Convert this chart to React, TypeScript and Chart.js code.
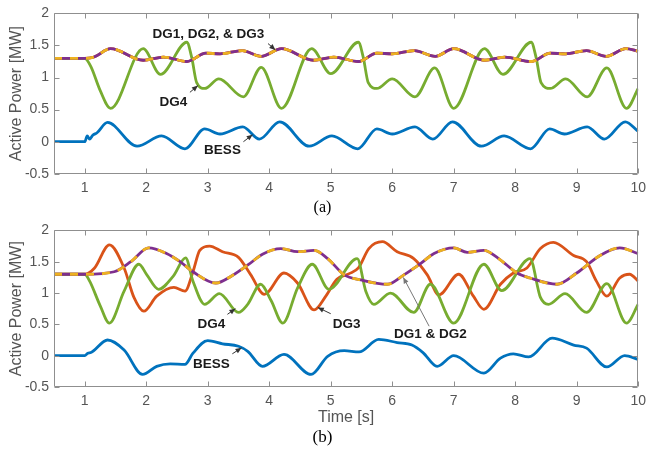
import React, { useEffect, useRef } from "react";
import { Chart, registerables } from "chart.js";

Chart.register(...registerables);

// ---------- axis ticks ----------
const xTicks = [1, 2, 3, 4, 5, 6, 7, 8, 9, 10];
const yTicks = [-0.5, 0, 0.5, 1, 1.5, 2];

// ---------- panel (a) : [time s, power MW] ----------
const aDG123: [number, number][] = [
  [0.5, 1.3], [1.0, 1.3], [1.15, 1.32], [1.42, 1.45], [1.95, 1.27], [2.28, 1.32], [2.66, 1.25],
  [2.97, 1.38], [3.2, 1.37], [3.56, 1.42], [3.87, 1.33], [4.2, 1.45], [4.72, 1.27], [5.05, 1.32],
  [5.45, 1.25], [5.75, 1.38], [6.0, 1.37], [6.36, 1.42], [6.7, 1.33], [7.0, 1.45], [7.5, 1.27],
  [7.83, 1.32], [8.26, 1.25], [8.57, 1.38], [8.82, 1.37], [9.16, 1.42], [9.48, 1.33], [9.8, 1.45],
  [10, 1.41],
];
const aDG4: [number, number][] = [
  [0.5, 1.3], [1.0, 1.3], [1.1, 1.17], [1.25, 0.8], [1.42, 0.52], [1.95, 1.45], [2.23, 1.05],
  [2.66, 1.55], [2.74, 1.31], [2.82, 0.92], [2.95, 0.83], [3.18, 0.98], [3.58, 0.7], [3.87, 1.16],
  [4.2, 0.52], [4.69, 1.45], [5.0, 1.06], [5.45, 1.55], [5.53, 1.31], [5.61, 0.92], [5.75, 0.83],
  [6.0, 0.98], [6.37, 0.7], [6.69, 1.15], [7.0, 0.52], [7.5, 1.45], [7.8, 1.05], [8.26, 1.55],
  [8.34, 1.31], [8.42, 0.92], [8.57, 0.83], [8.82, 0.98], [9.17, 0.7], [9.49, 1.15], [9.81, 0.52],
  [10, 0.83],
];
const aBESS: [number, number][] = [
  [0.5, 0], [1.0, 0], [1.04, 0.09], [1.08, 0.04], [1.13, 0.1], [1.2, 0.14], [1.37, 0.3],
  [1.85, -0.07], [2.25, 0.09], [2.63, -0.11], [2.95, 0.2], [3.2, 0.12], [3.57, 0.23], [3.84, 0.04],
  [4.17, 0.31], [4.65, -0.07], [5.02, 0.09], [5.44, -0.11], [5.75, 0.2], [6.0, 0.12], [6.37, 0.23],
  [6.66, 0.04], [6.98, 0.31], [7.45, -0.07], [7.82, 0.09], [8.25, -0.11], [8.56, 0.2], [8.8, 0.12],
  [9.17, 0.23], [9.45, 0.04], [9.79, 0.31], [10, 0.16],
];

// ---------- panel (b) ----------
const bDG12: [number, number][] = [
  [0.5, 1.3], [1.0, 1.3], [1.48, 1.34], [1.75, 1.5], [2.04, 1.72], [2.33, 1.63], [2.55, 1.5],
  [2.76, 1.34], [3.13, 1.16], [3.4, 1.28], [3.67, 1.46], [3.89, 1.62], [4.19, 1.71], [4.46, 1.66],
  [4.73, 1.68], [4.95, 1.55], [5.22, 1.29], [5.49, 1.21], [5.92, 1.14], [6.19, 1.29], [6.46, 1.47],
  [6.68, 1.63], [7.0, 1.72], [7.22, 1.65], [7.49, 1.68], [7.73, 1.55], [8.03, 1.32], [8.24, 1.24],
  [8.68, 1.14], [9.0, 1.32], [9.38, 1.6], [9.7, 1.72], [10, 1.63],
];
const bDG3: [number, number][] = [
  [0.5, 1.3], [1.0, 1.3], [1.16, 1.4], [1.4, 1.77], [1.64, 1.4], [1.8, 0.93], [1.96, 0.71],
  [2.17, 0.95], [2.45, 1.09], [2.63, 1.03], [2.76, 1.34], [2.87, 1.68], [3.03, 1.75], [3.24, 1.66],
  [3.5, 1.57], [3.7, 1.29], [3.92, 0.98], [4.24, 1.32], [4.46, 1.16], [4.73, 0.73], [4.92, 0.95],
  [5.1, 1.22], [5.3, 1.31], [5.45, 1.4], [5.62, 1.71], [5.84, 1.82], [6.08, 1.66], [6.35, 1.55],
  [6.57, 1.29], [6.76, 0.97], [7.08, 1.3], [7.32, 0.95], [7.49, 0.74], [7.76, 1.14], [7.97, 1.32],
  [8.19, 1.4], [8.41, 1.71], [8.62, 1.81], [8.95, 1.6], [9.16, 1.5], [9.32, 1.19], [9.49, 0.95],
  [9.7, 1.24], [9.86, 1.3], [10, 1.19],
];
const bDG4: [number, number][] = [
  [0.5, 1.3], [1.0, 1.3], [1.08, 1.19], [1.25, 0.8], [1.4, 0.52], [1.64, 1.03], [1.88, 1.46],
  [2.01, 1.29], [2.2, 1.06], [2.44, 1.27], [2.64, 1.56], [2.76, 1.19], [2.95, 0.82], [3.19, 0.99],
  [3.5, 0.69], [3.65, 0.82], [3.86, 1.14], [4.03, 0.88], [4.22, 0.52], [4.46, 1.08], [4.7, 1.46],
  [4.97, 1.06], [5.43, 1.55], [5.57, 1.03], [5.7, 0.82], [5.97, 1.0], [6.35, 0.69], [6.62, 1.14],
  [7.0, 0.52], [7.49, 1.46], [7.78, 1.04], [8.24, 1.55], [8.41, 0.93], [8.54, 0.82], [8.81, 0.99],
  [9.16, 0.69], [9.49, 1.15], [9.81, 0.52], [10, 0.82],
];
const bBESS: [number, number][] = [
  [0.5, 0], [1.0, 0], [1.05, 0.04], [1.1, 0.05], [1.37, 0.25], [1.64, 0.09], [1.94, -0.3],
  [2.17, -0.17], [2.39, -0.13], [2.63, -0.14], [2.76, 0.04], [3.0, 0.24], [3.24, 0.19], [3.5, 0.15],
  [3.65, 0.07], [3.89, -0.17], [4.24, 0.02], [4.68, -0.3], [4.95, -0.01], [5.22, 0.08], [5.46, 0.06],
  [5.78, 0.26], [6.08, 0.21], [6.32, 0.17], [6.5, 0.05], [6.73, -0.17], [7.0, 0.0], [7.49, -0.28],
  [7.76, -0.04], [7.97, 0.03], [8.22, -0.02], [8.6, 0.28], [8.95, 0.17], [9.16, 0.12], [9.49, -0.18],
  [9.78, 0.0], [10, -0.06],
];

// ---------- annotations (data coordinates) ----------
type Note = { text: string; tx: number; ty: number; x0: number; y0: number; x1: number; y1: number; color: string };

const notesA: Note[] = [
  { text: "DG1, DG2, & DG3", tx: 3.01, ty: 1.67, x0: 3.98, y0: 1.53, x1: 4.1, y1: 1.43, color: "#333" },
  { text: "DG4", tx: 2.44, ty: 0.62, x0: 2.71, y0: 0.77, x1: 2.84, y1: 0.875, color: "#333" },
  { text: "BESS", tx: 3.24, ty: -0.14, x0: 3.58, y0: 0.0, x1: 3.73, y1: 0.11, color: "#333" },
];
const notesB: Note[] = [
  { text: "DG4", tx: 3.06, ty: 0.5, x0: 3.32, y0: 0.66, x1: 3.45, y1: 0.75, color: "#333" },
  { text: "BESS", tx: 3.06, ty: -0.14, x0: 3.4, y0: 0.03, x1: 3.55, y1: 0.125, color: "#333" },
  { text: "DG3", tx: 5.26, ty: 0.5, x0: 5.0, y0: 0.67, x1: 4.79, y1: 0.77, color: "#333" },
  { text: "DG1 & DG2", tx: 6.62, ty: 0.34, x0: 6.6, y0: 0.47, x1: 6.18, y1: 1.25, color: "#777" },
];

const C_BLUE = "#0072BD";
const C_RED = "#D95319";
const C_YEL = "#EDB120";
const C_PUR = "#7E2F8E";
const C_GRN = "#77AC30";
const SANS = "'Liberation Sans', Arial, sans-serif";
const SERIF = "'Liberation Serif', 'Times New Roman', serif";

const toXY = (arr: [number, number][]) => arr.map(([x, y]) => ({ x, y }));

const line = (data: [number, number][], color: string, order: number, dash?: number[]) => ({
  data: toXY(data),
  borderColor: color,
  backgroundColor: color,
  borderWidth: 2.8,
  borderDash: dash || [],
  pointRadius: 0,
  fill: false,
  cubicInterpolationMode: "monotone" as const,
  order,
});

const boxPlugin = {
  id: "boxTicks",
  afterDraw(chart: any, _args: any, opts: any) {
    const { ctx, chartArea: ca, scales } = chart;
    const xs = scales.x;
    const ys = scales.y;
    const L = Math.round(ca.left) + 0.5;
    const R = Math.round(ca.right) - 0.5;
    const T = Math.round(ca.top) + 0.5;
    const B = Math.round(ca.bottom) - 0.5;
    ctx.save();
    ctx.strokeStyle = "#8f8f8f";
    ctx.lineWidth = 1;
    ctx.beginPath();
    ctx.rect(L, T, R - L, B - T);
    const tl = 5;
    xTicks.forEach((v) => {
      const p = Math.round(xs.getPixelForValue(v)) + 0.5;
      ctx.moveTo(p, B);
      ctx.lineTo(p, B - tl);
      ctx.moveTo(p, T);
      ctx.lineTo(p, T + tl);
    });
    yTicks.forEach((v) => {
      const p = Math.round(ys.getPixelForValue(v)) + 0.5;
      ctx.moveTo(L, p);
      ctx.lineTo(L + tl, p);
      ctx.moveTo(R, p);
      ctx.lineTo(R - tl, p);
    });
    ctx.stroke();

    const notes: Note[] = (opts && opts.notes) || [];
    notes.forEach((n) => {
      const x0 = xs.getPixelForValue(n.x0);
      const y0 = ys.getPixelForValue(n.y0);
      const x1 = xs.getPixelForValue(n.x1);
      const y1 = ys.getPixelForValue(n.y1);
      ctx.strokeStyle = n.color;
      ctx.fillStyle = n.color;
      ctx.lineWidth = 1;
      ctx.beginPath();
      ctx.moveTo(x0, y0);
      ctx.lineTo(x1, y1);
      ctx.stroke();
      const ang = Math.atan2(y1 - y0, x1 - x0);
      const hl = 6;
      const hw = 2.6;
      ctx.beginPath();
      ctx.moveTo(x1, y1);
      ctx.lineTo(x1 - hl * Math.cos(ang) + hw * Math.sin(ang), y1 - hl * Math.sin(ang) - hw * Math.cos(ang));
      ctx.lineTo(x1 - hl * Math.cos(ang) - hw * Math.sin(ang), y1 - hl * Math.sin(ang) + hw * Math.cos(ang));
      ctx.closePath();
      ctx.fill();
      ctx.fillStyle = "#1a1a1a";
      ctx.font = `bold 13.5px ${SANS}`;
      ctx.textAlign = "center";
      ctx.textBaseline = "middle";
      ctx.fillText(n.text, xs.getPixelForValue(n.tx), ys.getPixelForValue(n.ty));
    });
    ctx.restore();
  },
};

function makeConfig(
  datasets: any[],
  notes: Note[],
  caption: string,
  captionSize: number,
  captionPadBottom: number,
  padTop: number,
  xHeight: number,
  xTitle: string | null
): any {
  return {
    type: "line",
    data: { datasets },
    plugins: [boxPlugin],
    options: {
      responsive: false,
      animation: false,
      layout: { padding: { top: padTop, right: 7, left: 0, bottom: 0 } },
      plugins: {
        legend: { display: false },
        tooltip: { enabled: false },
        title: {
          display: true,
          position: "bottom",
          text: caption,
          color: "#000",
          font: { family: SERIF, size: captionSize, weight: "normal" },
          padding: { top: 0, bottom: captionPadBottom },
        },
        boxTicks: { notes },
      },
      scales: {
        x: {
          type: "linear",
          min: 0.5,
          max: 10,
          afterBuildTicks: (s: any) => {
            s.ticks = xTicks.map((v) => ({ value: v }));
          },
          afterFit: (s: any) => {
            s.height = xHeight;
          },
          grid: { display: false, drawTicks: false },
          border: { display: false },
          ticks: {
            padding: 6,
            color: "#555",
            font: { family: SANS, size: 14 },
            maxRotation: 0,
            autoSkip: false,
            callback: (v: any) => String(v),
          },
          title: xTitle
            ? {
                display: true,
                text: xTitle,
                color: "#555",
                font: { family: SANS, size: 16 },
                padding: { top: 0, bottom: 0 },
              }
            : { display: false },
        },
        y: {
          type: "linear",
          min: -0.5,
          max: 2,
          afterBuildTicks: (s: any) => {
            s.ticks = yTicks.map((v) => ({ value: v }));
          },
          afterFit: (s: any) => {
            s.width = 54;
          },
          grid: { display: false, drawTicks: false },
          border: { display: false },
          ticks: {
            padding: 5,
            color: "#555",
            font: { family: SANS, size: 14 },
            autoSkip: false,
            callback: (v: any) => String(v),
          },
          title: {
            display: true,
            text: "Active Power [MW]",
            color: "#555",
            font: { family: SANS, size: 16 },
            padding: { top: 7, bottom: 0 },
          },
        },
      },
    },
  };
}

function Panel(props: { top: number; height: number; build: () => any }) {
  const ref = useRef<HTMLCanvasElement>(null);
  useEffect(() => {
    const chart = new Chart(ref.current as HTMLCanvasElement, props.build());
    return () => chart.destroy();
  }, []);
  return (
    <div style={{ position: "absolute", left: 0, top: props.top, width: 652, height: props.height }}>
      <canvas ref={ref} width={652} height={props.height} style={{ display: "block" }} />
    </div>
  );
}

export default function App() {
  const buildA = () =>
    makeConfig(
      [
        line(aDG123, C_YEL, 0, [8, 8]),
        line(aDG123, C_PUR, 1),
        line(aDG4, C_GRN, 2),
        line(aDG123, C_RED, 3),
        line(aBESS, C_BLUE, 4),
      ],
      notesA,
      "(a)",
      16,
      0,
      13,
      24,
      null
    );
  const buildB = () =>
    makeConfig(
      [
        line(bDG12, C_YEL, 0, [8, 8]),
        line(bDG12, C_PUR, 1),
        line(bDG4, C_GRN, 2),
        line(bDG3, C_RED, 3),
        line(bBESS, C_BLUE, 4),
      ],
      notesB,
      "(b)",
      17,
      4,
      10,
      40.6,
      "Time [s]"
    );
  return (
    <div style={{ position: "absolute", left: 0, top: 0, width: 652, height: 452, background: "#fff" }}>
      <Panel top={0} height={217} build={buildA} />
      <Panel top={217} height={235} build={buildB} />
    </div>
  );
}
